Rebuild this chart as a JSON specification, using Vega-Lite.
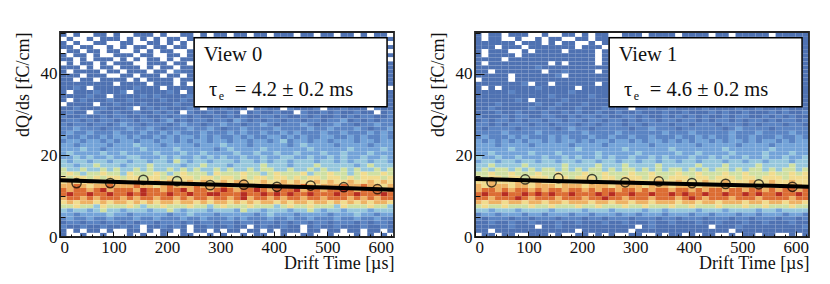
{"$schema":"https://vega.github.io/schema/vega-lite/v6.json","background":"white","padding":{"left":13,"top":31,"right":5,"bottom":5},"spacing":81,"bounds":"flush","config":{"view":{"stroke":null},"axis":{"grid":false,"labelFont":"Liberation Serif","titleFont":"Liberation Serif","labelColor":"#111","titleColor":"#111","tickColor":"#111","domain":false,"titleFontWeight":"normal"}},
"datasets":{
"h0":[
{"y":49,"y2":50,"c":[1,0,1,0,0,1,1,0,1,0,0,1,1,1,0,1,0,0,1,1,0,1,0,1,1,0,1,1,0,1,1,0,1,1,1,0,1,1,0,1,1,0,1,1,0,1,0,1,1,0]},
{"y":48,"y2":49,"c":[0,1,0,0,1,0,1,1,1,0,1,0,1,0,1,0,1,1,0,1,1,1,1,1,1,1,1,1,1,1,1,1,1,1,1,1,1,1,1,1,1,1,1,1,1,1,1,1,0,1]},
{"y":47,"y2":48,"c":[1,0,1,0,0,1,1,0,0,1,1,0,0,1,1,0,1,0,1,0,1,1,1,1,1,1,1,1,1,1,1,1,1,1,1,1,1,1,1,1,1,1,1,1,1,1,1,1,1,0]},
{"y":46,"y2":47,"c":[1,1,0,1,1,0,0,1,0,1,0,1,1,0,1,1,0,1,1,0,1,1,1,1,1,1,1,1,1,1,1,1,1,1,1,1,1,1,1,1,1,1,1,1,1,1,1,1,0,1]},
{"y":45,"y2":46,"c":[0,1,1,0,1,1,0,1,1,0,0,1,0,1,0,1,1,0,0,1,1,1,1,1,1,1,1,1,1,1,1,1,1,1,1,1,1,1,1,1,1,1,1,1,1,1,1,1,1,0]},
{"y":44,"y2":45,"c":[1,0,1,1,0,1,0,0,1,1,1,0,1,1,0,0,1,1,0,1,1,1,1,1,1,1,1,1,1,1,1,1,1,1,1,1,1,1,1,1,1,1,1,1,1,1,1,1,0,1]},
{"y":43,"y2":44,"c":[1,1,0,1,0,1,1,1,0,1,0,1,0,1,1,0,1,0,1,1,1,1,1,1,1,1,1,1,1,1,1,1,1,1,1,1,1,1,1,1,1,1,1,1,1,1,1,1,1,0]},
{"y":42,"y2":43,"c":[0,1,0,1,1,0,1,0,1,1,1,0,0,1,1,1,0,1,1,0,1,1,1,1,1,1,1,1,1,1,1,1,1,1,1,1,1,1,1,1,1,1,1,1,1,1,1,1,0,1]},
{"y":41,"y2":42,"c":[1,1,1,0,1,0,1,1,0,1,1,1,0,1,0,1,1,0,1,1,1,1,1,1,1,1,1,1,1,1,1,1,1,1,1,1,1,1,1,1,1,1,1,1,1,1,1,1,1,1]},
{"y":40,"y2":41,"c":[1,0,1,1,1,1,0,1,1,0,1,1,1,0,1,1,0,2,1,1,1,1,1,1,1,1,1,1,1,1,1,1,1,1,1,1,1,1,1,1,1,1,1,1,1,1,1,1,0,1]},
{"y":39,"y2":40,"c":[1,1,1,0,1,1,1,0,0,1,1,0,1,1,1,0,1,1,0,1,1,1,1,1,1,1,1,1,1,1,1,1,1,1,1,1,1,1,1,1,1,1,1,1,1,1,1,1,1,1]},
{"y":38,"y2":39,"c":[1,1,0,1,1,0,1,1,1,1,0,1,0,1,1,1,1,0,1,1,1,1,1,1,1,1,1,1,1,1,1,1,1,1,1,1,1,1,1,1,1,1,1,1,1,1,1,1,0,1]},
{"y":37,"y2":38,"c":[1,1,1,1,1,1,1,1,0,1,1,1,1,0,1,1,1,0,1,0,1,1,1,1,1,1,1,1,1,1,1,1,1,1,1,1,1,1,1,1,1,1,1,1,1,1,1,1,1,1]},
{"y":36,"y2":37,"c":[1,1,2,1,0,1,1,1,1,1,1,2,1,1,1,0,1,1,1,1,1,1,1,1,1,1,1,1,1,1,1,1,1,1,1,1,1,1,1,1,1,1,1,1,1,1,1,1,1,0]},
{"y":35,"y2":36,"c":[1,0,1,1,1,2,1,1,1,2,0,1,1,1,1,1,2,1,0,1,1,1,1,1,1,1,1,1,1,1,1,1,1,1,1,1,1,1,1,1,1,1,1,1,1,1,1,1,1,1]},
{"y":34,"y2":35,"c":[1,1,1,1,2,1,1,0,1,1,1,1,2,1,2,1,1,1,1,2,1,1,1,1,1,1,1,1,1,1,1,1,1,1,1,1,1,1,1,1,1,1,1,1,1,1,1,1,1,1]},
{"y":33,"y2":34,"c":[1,0,1,2,1,1,1,2,1,1,2,1,1,1,1,2,1,1,2,1,1,1,1,1,1,1,1,1,1,1,1,1,1,1,1,1,1,1,1,1,1,1,1,1,1,1,1,1,0,1]},
{"y":32,"y2":33,"c":[0,1,1,1,1,0,1,1,2,1,1,1,2,1,1,1,1,2,1,1,1,1,1,1,1,1,1,1,1,1,1,1,1,1,1,1,1,1,1,1,1,1,1,1,1,1,1,1,1,1]},
{"y":31,"y2":32,"c":[1,1,2,1,1,1,2,1,1,1,2,0,1,2,1,2,1,1,1,2,1,0,1,1,2,1,1,1,0,1,2,1,1,0,2,1,1,1,2,0,1,1,2,1,1,1,0,2,1,1]},
{"y":30,"y2":31,"c":[1,2,1,1,0,2,1,1,2,1,1,2,1,1,2,1,2,1,0,2,1,1,2,1,1,2,1,0,1,2,1,1,2,1,1,0,2,1,1,2,1,2,1,1,2,1,1,0,1,2]},
{"y":29,"y2":30,"c":[2,1,1,2,1,1,2,1,2,2,1,1,2,1,1,2,1,2,2,1,2,1,1,2,1,2,1,2,1,1,2,2,1,2,1,1,2,1,2,1,1,2,1,2,1,2,2,1,1,2]},
{"y":28,"y2":29,"c":[1,2,2,1,2,1,2,2,1,2,2,1,2,2,1,2,3,1,2,1,2,2,1,2,2,1,3,2,1,2,1,2,2,1,2,2,1,2,2,1,2,2,3,1,2,1,2,1,2,2]},
{"y":27,"y2":28,"c":[2,1,2,2,1,2,2,1,2,3,2,2,1,2,2,2,1,2,3,2,2,1,2,2,3,2,2,1,2,2,3,2,1,2,2,2,3,2,1,2,2,3,2,2,1,2,2,3,2,2]},
{"y":26,"y2":27,"c":[2,2,3,2,2,2,1,2,2,2,3,2,2,3,2,1,2,2,2,3,2,2,3,2,1,2,2,3,2,2,2,2,3,2,2,2,2,3,2,2,3,2,2,2,3,2,1,2,2,3]},
{"y":25,"y2":26,"c":[2,3,2,2,3,2,2,2,3,2,2,2,3,2,2,3,2,3,2,2,2,3,2,2,2,3,2,3,2,2,3,2,2,3,2,3,2,2,2,3,2,2,3,2,2,2,3,2,3,2]},
{"y":24,"y2":25,"c":[3,2,2,3,2,2,3,2,3,3,2,3,2,2,3,2,3,2,3,3,2,3,2,3,2,2,3,2,3,2,2,3,3,2,3,2,3,2,2,3,3,2,2,3,2,3,2,2,3,2]},
{"y":23,"y2":24,"c":[2,3,3,2,3,3,2,3,2,3,3,2,3,3,2,3,3,2,3,2,3,3,2,3,3,2,3,3,2,3,3,2,3,4,2,3,3,2,3,3,2,3,3,3,2,3,3,2,3,3]},
{"y":22,"y2":23,"c":[3,3,2,3,3,3,3,2,3,3,3,4,3,3,3,2,3,3,3,3,2,3,3,3,4,3,3,3,2,3,3,3,3,3,2,3,4,3,3,3,3,2,3,3,3,3,2,3,3,3]},
{"y":21,"y2":22,"c":[3,3,3,4,3,3,2,3,3,3,3,3,4,3,3,3,3,4,3,3,3,3,3,2,3,4,3,3,3,3,4,3,3,3,3,3,3,4,3,3,3,3,3,4,3,3,3,3,4,3]},
{"y":20,"y2":21,"c":[3,4,3,3,3,3,4,3,3,4,3,3,3,3,4,3,3,3,4,3,3,4,3,3,3,3,4,3,3,4,3,3,4,3,3,4,3,3,3,4,3,3,4,3,3,3,4,3,3,3]},
{"y":19,"y2":20,"c":[3,3,4,3,4,3,3,4,3,3,4,4,3,3,3,4,3,4,3,3,4,3,4,3,4,3,3,4,3,3,4,3,3,4,4,3,3,4,3,3,4,3,4,3,3,4,3,3,4,3]},
{"y":18,"y2":19,"c":[4,3,4,4,3,4,4,3,4,4,3,4,4,3,4,4,3,5,4,3,4,4,3,4,4,4,3,4,4,3,4,3,4,4,3,4,4,4,3,4,4,3,4,3,4,4,3,4,4,3]},
{"y":17,"y2":18,"c":[4,4,3,4,4,5,4,4,4,3,4,4,4,5,4,4,4,4,3,4,4,5,4,4,4,3,4,4,4,4,5,4,4,4,3,4,4,4,5,4,4,4,4,4,3,4,5,4,4,4]},
{"y":16,"y2":17,"c":[5,4,4,5,4,4,5,4,5,4,4,5,4,5,4,4,5,4,5,4,5,4,4,5,4,5,4,4,5,4,5,5,4,4,5,4,4,5,4,5,4,4,5,4,5,4,4,5,4,5]},
{"y":15,"y2":16,"c":[5,6,5,4,5,5,6,5,5,4,6,5,5,5,6,5,4,5,6,5,5,5,4,6,5,5,5,6,5,5,4,5,6,5,5,5,6,4,5,5,6,5,5,4,5,6,5,5,6,5]},
{"y":14,"y2":15,"c":[6,5,6,6,5,6,5,6,6,5,6,6,5,6,6,5,6,5,6,6,5,6,6,5,6,6,5,6,5,6,6,5,6,6,5,6,5,6,6,5,6,6,5,6,5,6,6,6,5,6]},
{"y":13,"y2":14,"c":[6,7,6,6,7,6,6,7,6,7,6,7,6,6,7,6,7,6,6,7,6,7,6,6,7,6,7,7,6,6,7,6,6,7,6,7,6,6,7,6,7,6,6,7,6,6,7,6,7,6]},
{"y":12,"y2":13,"c":[7,7,8,7,6,7,7,8,7,7,7,8,7,7,6,7,8,7,7,7,8,7,7,7,8,7,6,7,7,8,7,7,8,7,7,7,8,7,6,7,7,7,8,7,7,8,7,7,6,7]},
{"y":11,"y2":12,"c":[8,7,8,8,7,8,9,7,8,8,8,7,9,8,8,7,8,8,9,7,8,8,7,8,9,8,7,8,8,9,8,7,8,8,8,9,7,8,8,7,8,8,9,8,7,8,8,8,7,8]},
{"y":10,"y2":11,"c":[8,9,8,8,9,8,8,9,8,8,9,8,9,8,8,8,9,8,8,9,8,8,9,9,8,8,8,9,8,8,9,8,9,8,9,8,8,9,8,8,8,9,8,8,9,8,8,8,9,8]},
{"y":9,"y2":10,"c":[7,8,8,7,8,7,8,8,8,7,8,7,8,8,7,8,8,7,8,7,8,8,7,8,8,7,8,9,7,8,8,7,8,7,8,8,7,8,8,7,8,8,8,7,8,7,8,7,8,8]},
{"y":8,"y2":9,"c":[6,7,6,7,7,6,7,6,7,7,6,7,6,7,6,7,7,6,7,7,6,7,6,7,7,6,7,6,7,6,7,7,6,7,6,7,7,6,7,7,6,7,6,7,6,7,6,7,7,6]},
{"y":7,"y2":8,"c":[5,5,6,5,5,4,6,5,5,5,6,5,4,5,5,6,5,5,5,6,5,5,4,5,6,5,5,5,6,5,5,5,4,5,6,5,5,6,5,5,5,4,6,5,5,5,6,5,5,4]},
{"y":6,"y2":7,"c":[4,3,4,4,3,4,5,4,4,3,4,4,4,3,4,4,5,4,3,4,4,4,3,4,4,4,3,5,4,4,3,4,4,4,3,4,4,5,4,3,4,4,3,4,4,4,3,4,4,4]},
{"y":5,"y2":6,"c":[3,3,2,3,3,3,3,4,3,3,2,3,3,3,3,3,2,3,3,4,3,3,3,2,3,3,3,3,3,2,3,4,3,3,3,2,3,3,3,3,2,3,3,3,4,3,3,2,3,3]},
{"y":4,"y2":5,"c":[2,3,2,2,3,2,2,3,2,2,2,3,2,2,3,2,2,2,3,2,2,3,2,2,2,3,2,3,2,2,2,3,2,2,3,2,2,3,2,2,2,3,2,2,3,2,2,3,2,2]},
{"y":3,"y2":4,"c":[1,2,2,1,2,2,1,2,2,1,2,1,2,2,1,2,2,2,1,2,1,2,2,1,2,2,1,2,2,1,2,2,1,2,1,2,2,1,2,2,1,2,2,2,1,2,1,2,2,1]},
{"y":2,"y2":3,"c":[2,1,1,2,1,1,2,1,1,2,1,2,0,1,1,2,1,2,1,0,1,1,2,1,1,2,1,1,0,1,2,1,1,2,1,1,0,1,2,1,1,2,1,1,1,2,1,1,2,1]},
{"y":1,"y2":2,"c":[1,0,1,0,1,1,0,1,0,0,1,1,0,1,0,1,1,0,1,0,1,1,0,1,0,1,1,0,1,1,0,1,0,1,1,1,0,1,1,0,1,1,0,1,1,0,1,1,0,1]},
{"y":0,"y2":1,"c":[1,0,0,1,0,0,1,0,0,0,1,0,1,0,0,1,0,0,1,1,0,0,1,0,1,0,0,1,0,1,1,0,0,1,0,0,1,1,0,0,1,0,0,0,1,0,1,0,1,0]}
],
"h1":[
{"y":49,"y2":50,"c":[1,0,1,1,0,1,1,1,0,0,1,0,0,1,1,0,1,0,1,1,0,0,1,1,1,0,1,1,1,1,0,1,1,1,1,0,1,1,0,1,1,1,1,1,0,1,1,1,1,1]},
{"y":48,"y2":49,"c":[1,0,1,1,0,0,1,0,0,1,0,1,1,0,0,1,1,0,1,1,1,1,1,1,1,1,1,1,1,1,1,1,1,1,1,1,1,1,1,1,1,1,1,1,1,1,1,1,1,1]},
{"y":47,"y2":48,"c":[1,1,1,1,1,1,0,1,1,1,0,1,0,1,1,0,0,1,0,1,1,1,1,1,1,1,1,1,1,1,1,1,1,1,1,1,1,1,1,1,1,1,1,1,1,1,1,1,1,1]},
{"y":46,"y2":47,"c":[1,1,1,0,1,1,1,0,1,1,1,1,1,1,1,0,1,1,1,0,1,1,1,1,1,1,1,1,1,1,1,1,1,1,1,1,1,1,1,1,1,1,1,1,1,1,1,1,1,1]},
{"y":45,"y2":46,"c":[1,0,1,1,1,0,0,1,0,1,1,1,1,0,1,1,1,1,0,1,1,1,1,1,1,1,1,1,1,1,1,1,1,1,1,1,1,1,1,1,1,1,1,1,1,1,1,1,1,1]},
{"y":44,"y2":45,"c":[1,0,1,1,1,1,0,1,1,1,1,1,1,1,1,1,1,1,0,1,1,1,1,1,1,1,1,1,1,1,1,1,1,1,1,1,1,1,1,1,1,1,1,1,1,1,1,1,1,1]},
{"y":43,"y2":44,"c":[1,1,1,1,0,1,1,1,1,1,1,1,1,1,1,1,1,1,0,1,1,1,1,1,1,1,1,1,1,1,1,1,1,1,1,1,1,1,1,1,1,1,1,1,1,1,1,1,1,1]},
{"y":42,"y2":43,"c":[1,0,1,1,1,1,1,1,1,1,1,0,1,0,1,1,1,1,0,1,1,1,1,1,1,1,1,1,1,1,1,1,1,1,1,1,1,1,1,1,1,1,1,1,1,1,1,1,1,1]},
{"y":41,"y2":42,"c":[1,1,1,1,1,1,1,1,1,2,1,1,1,1,1,1,1,1,1,1,1,1,1,1,1,1,1,1,1,1,1,1,1,1,1,1,1,1,1,1,1,1,1,1,1,1,1,1,1,1]},
{"y":40,"y2":41,"c":[1,1,0,1,1,1,1,1,1,1,0,1,1,2,1,1,1,1,0,1,1,1,1,1,1,1,1,1,1,1,1,1,1,1,1,1,1,1,1,1,1,1,1,1,1,1,1,1,1,1]},
{"y":39,"y2":40,"c":[1,1,1,1,1,0,1,1,1,1,1,1,2,0,1,1,1,1,1,1,1,1,1,1,1,1,1,1,1,1,1,1,1,1,1,1,1,1,1,1,1,1,1,1,1,1,1,1,1,1]},
{"y":38,"y2":39,"c":[0,1,1,1,1,0,1,1,1,1,1,1,1,1,1,1,1,1,1,1,1,1,1,1,1,1,1,1,1,1,1,1,1,1,1,1,1,1,1,1,1,1,1,1,1,1,1,1,1,1]},
{"y":37,"y2":38,"c":[1,1,1,1,1,1,1,2,0,1,1,0,1,1,1,1,1,1,0,1,1,1,1,1,1,1,1,1,1,1,1,1,1,1,1,1,1,1,1,1,1,1,1,1,1,1,1,1,1,1]},
{"y":36,"y2":37,"c":[1,0,1,0,1,1,1,1,1,2,1,1,1,1,1,0,1,1,1,1,1,1,1,1,1,1,1,1,1,1,1,1,1,1,1,1,1,1,1,1,1,1,1,1,1,1,1,1,1,1]},
{"y":35,"y2":36,"c":[1,1,1,1,1,2,1,1,1,1,1,1,1,1,2,1,1,1,1,1,1,1,1,1,1,1,1,1,1,1,1,1,1,1,1,1,1,1,1,1,1,1,1,1,1,1,1,1,1,1]},
{"y":34,"y2":35,"c":[1,1,1,1,1,1,1,1,1,1,1,2,1,1,1,1,1,2,1,1,1,1,1,1,1,1,1,1,1,1,1,1,1,1,1,1,1,1,1,1,1,1,1,1,1,1,1,1,1,1]},
{"y":33,"y2":34,"c":[1,1,1,1,1,1,2,1,0,1,1,1,1,2,1,1,1,1,1,1,1,1,1,1,1,1,1,1,1,1,1,1,1,1,1,1,1,1,1,1,1,1,1,1,1,1,1,1,1,1]},
{"y":32,"y2":33,"c":[1,1,1,2,1,1,1,1,1,2,1,1,2,1,1,1,2,1,1,1,2,1,1,1,1,1,1,1,1,1,1,1,1,1,1,1,1,1,1,1,1,1,1,1,1,1,1,1,1,1]},
{"y":31,"y2":32,"c":[1,1,2,1,1,1,1,1,2,1,1,2,1,1,1,2,1,1,1,2,1,1,1,0,1,1,2,1,1,2,1,1,1,1,2,1,1,1,1,2,1,1,2,1,1,1,2,1,1,1]},
{"y":30,"y2":31,"c":[1,1,1,2,1,1,2,1,1,1,2,1,1,2,1,2,1,1,2,1,1,2,1,1,2,1,1,1,2,1,1,2,1,1,1,2,1,2,1,1,2,1,1,1,2,1,2,1,1,2]},
{"y":29,"y2":30,"c":[2,1,1,1,2,1,2,2,1,1,2,2,1,1,2,1,2,2,1,2,1,1,2,2,1,2,1,1,2,1,2,1,2,1,2,1,1,2,1,2,2,1,1,2,1,2,1,2,1,1]},
{"y":28,"y2":29,"c":[1,2,1,2,2,1,2,1,2,2,1,2,2,1,2,2,1,2,2,1,2,2,1,2,1,2,2,1,2,2,1,2,2,1,2,1,2,2,1,2,1,2,2,1,2,1,2,2,1,2]},
{"y":27,"y2":28,"c":[2,2,1,2,1,2,2,2,1,2,2,1,2,2,2,1,2,2,1,2,2,2,1,2,2,1,2,2,2,1,2,2,1,2,2,2,1,2,2,2,1,2,1,2,2,2,1,2,2,1]},
{"y":26,"y2":27,"c":[2,1,2,2,2,2,1,2,2,2,2,2,1,2,3,2,2,1,2,2,2,2,2,1,2,2,3,2,2,2,1,2,2,2,2,2,2,1,2,3,2,2,2,2,1,2,2,2,2,2]},
{"y":25,"y2":26,"c":[2,2,2,2,3,2,2,2,2,3,2,2,2,2,2,2,3,2,2,2,2,3,2,2,2,2,2,2,3,2,2,2,3,2,2,2,2,2,3,2,2,2,3,2,2,2,2,3,2,2]},
{"y":24,"y2":25,"c":[2,3,2,2,2,3,2,3,2,2,2,3,2,3,2,2,2,3,2,2,3,2,2,3,2,2,3,2,2,2,3,2,2,3,2,3,2,2,3,2,2,3,2,2,2,3,2,2,3,2]},
{"y":23,"y2":24,"c":[3,2,3,2,3,2,3,2,3,3,2,3,2,3,3,2,3,2,3,3,2,3,3,2,3,2,3,3,2,3,2,3,2,3,3,2,3,2,3,3,2,3,2,3,3,2,3,2,3,3]},
{"y":22,"y2":23,"c":[3,3,3,2,3,3,3,3,2,3,3,3,3,3,2,3,3,3,3,2,3,3,3,3,3,3,2,3,3,3,3,3,3,2,3,3,3,3,3,2,3,3,3,3,2,3,3,3,3,3]},
{"y":21,"y2":22,"c":[3,3,3,3,3,4,3,3,3,3,3,3,3,3,3,4,3,3,3,3,3,3,4,3,3,3,3,3,3,4,3,3,3,3,3,3,3,4,3,3,3,3,3,3,4,3,3,3,3,3]},
{"y":20,"y2":21,"c":[3,3,4,3,3,3,3,3,4,3,3,3,4,3,3,3,3,3,4,3,3,3,3,3,4,3,3,3,3,3,4,3,3,4,3,3,3,3,4,3,3,3,3,4,3,3,3,4,3,3]},
{"y":19,"y2":20,"c":[4,3,3,4,3,3,4,3,3,3,4,3,3,4,3,4,3,3,4,3,4,3,3,4,3,3,4,3,4,3,3,3,4,3,3,4,3,4,3,3,4,3,3,4,3,3,4,3,3,4]},
{"y":18,"y2":19,"c":[3,4,4,3,4,4,3,4,4,3,4,4,3,4,4,3,4,4,3,4,4,3,4,4,3,4,4,3,4,4,3,4,4,3,4,4,4,3,4,4,3,4,4,3,4,4,4,3,4,4]},
{"y":17,"y2":18,"c":[4,4,5,4,4,4,4,5,4,4,4,4,4,5,4,4,4,4,5,4,4,4,5,4,4,4,4,5,4,4,4,4,4,5,4,4,4,5,4,4,4,4,5,4,4,4,4,5,4,4]},
{"y":16,"y2":17,"c":[4,5,4,5,5,4,5,4,5,4,5,5,4,5,4,5,4,5,5,4,5,4,5,5,4,5,4,5,4,5,5,4,5,4,5,4,5,5,4,5,4,5,5,4,5,4,5,5,4,5]},
{"y":15,"y2":16,"c":[5,5,6,5,5,6,5,5,5,6,5,5,6,5,5,5,6,5,5,6,5,5,5,6,5,5,6,5,5,5,6,5,5,6,5,5,5,6,5,5,6,5,5,5,6,5,5,6,5,6]},
{"y":14,"y2":15,"c":[6,5,6,6,5,6,6,5,6,6,6,5,6,6,5,6,6,6,5,6,6,5,6,6,6,5,6,6,5,6,6,6,5,6,6,5,6,6,6,5,6,6,5,6,6,6,5,6,6,6]},
{"y":13,"y2":14,"c":[6,6,7,6,6,6,7,6,6,7,6,6,6,7,6,6,7,6,6,6,7,6,6,7,6,6,6,7,6,6,7,6,6,6,7,6,6,7,6,6,6,7,6,6,7,6,6,7,6,6]},
{"y":12,"y2":13,"c":[7,6,7,7,7,6,7,7,6,7,7,7,6,7,7,7,6,7,7,7,6,7,7,7,7,6,7,7,7,6,7,7,7,6,7,7,7,7,6,7,7,7,6,7,7,6,7,7,7,6]},
{"y":11,"y2":12,"c":[7,8,8,7,8,7,8,8,7,8,7,8,8,7,8,8,7,8,7,8,8,7,8,8,7,8,7,8,8,7,8,8,7,8,7,8,8,7,8,8,7,8,8,7,8,7,8,8,7,8]},
{"y":10,"y2":11,"c":[8,9,8,8,9,8,8,9,8,9,8,9,8,8,9,8,8,8,9,8,9,8,8,9,8,8,9,8,8,9,8,9,8,8,9,8,8,9,8,8,9,8,9,8,8,9,8,8,9,8]},
{"y":9,"y2":10,"c":[8,8,7,8,8,8,9,8,7,8,8,8,7,8,8,8,7,8,8,9,8,8,7,8,8,8,7,8,8,8,7,8,9,8,7,8,8,8,7,8,8,8,7,8,8,8,8,7,8,8]},
{"y":8,"y2":9,"c":[7,6,7,7,6,7,7,6,7,7,6,7,7,6,7,7,7,6,7,7,6,7,7,6,7,7,6,7,7,7,6,7,7,6,7,7,6,7,7,7,6,7,7,6,7,7,6,7,7,6]},
{"y":7,"y2":8,"c":[5,6,5,5,6,5,5,5,6,5,5,6,5,5,5,6,5,5,6,5,5,5,6,5,5,6,5,5,5,6,5,5,6,5,5,5,6,5,5,5,6,5,5,6,5,5,5,6,5,5]},
{"y":6,"y2":7,"c":[4,4,3,4,4,4,3,4,4,4,4,3,4,4,4,4,3,4,4,4,3,4,4,4,4,3,4,4,3,4,4,4,4,3,4,4,4,3,4,4,4,4,3,4,4,3,4,4,4,4]},
{"y":5,"y2":6,"c":[2,3,3,2,3,3,3,2,3,3,2,3,3,3,2,3,3,2,3,3,3,2,3,3,2,3,3,3,2,3,3,3,2,3,3,2,3,3,3,2,3,3,2,3,3,3,2,3,3,2]},
{"y":4,"y2":5,"c":[2,1,2,2,2,1,2,2,1,2,2,2,1,2,2,2,1,2,2,1,2,2,2,1,2,2,2,1,2,2,1,2,2,2,1,2,2,2,1,2,2,1,2,2,2,1,2,2,1,2]},
{"y":3,"y2":4,"c":[1,1,2,1,1,2,1,1,2,1,1,1,2,1,1,2,1,1,1,2,1,1,2,1,1,1,2,1,1,2,1,1,1,2,1,1,2,1,1,1,2,1,1,2,1,1,1,2,1,1]},
{"y":2,"y2":3,"c":[1,1,1,1,1,2,1,1,1,0,1,1,2,1,1,1,1,1,1,1,1,1,1,1,0,1,2,1,1,1,1,1,1,1,1,0,1,1,1,2,1,1,1,1,1,1,1,1,1,2]},
{"y":1,"y2":2,"c":[1,1,0,1,1,1,1,1,1,1,1,1,1,1,1,0,1,1,1,1,1,1,1,0,1,1,1,1,1,1,1,1,1,1,1,1,1,1,0,1,1,1,1,1,1,1,1,1,1,1]},
{"y":0,"y2":1,"c":[0,1,1,0,1,1,0,0,1,1,1,0,1,0,0,1,1,0,1,0,1,0,0,1,1,0,0,1,0,1,1,0,1,0,1,1,0,0,1,0,1,1,0,1,1,0,0,1,0,1]}
],
"fit0":[{"x":0,"y":13.9},{"x":125,"y":13.4},{"x":250,"y":12.95},{"x":375,"y":12.5},{"x":500,"y":12.1},{"x":625,"y":11.6}],
"fit1":[{"x":0,"y":14.2},{"x":125,"y":13.8},{"x":250,"y":13.4},{"x":375,"y":13.05},{"x":500,"y":12.7},{"x":625,"y":12.3}],
"pts0":[{"x":31,"y":13.2},{"x":94,"y":13.2},{"x":156,"y":14.0},{"x":219,"y":13.7},{"x":281,"y":12.7},{"x":344,"y":12.8},{"x":406,"y":12.3},{"x":469,"y":12.6},{"x":531,"y":12.2},{"x":594,"y":11.7}],
"pts1":[{"x":31,"y":13.4},{"x":94,"y":14.1},{"x":156,"y":14.4},{"x":219,"y":14.2},{"x":281,"y":13.4},{"x":344,"y":13.6},{"x":406,"y":13.2},{"x":469,"y":13.0},{"x":531,"y":12.9},{"x":594,"y":12.3}],
"frame":[{"x":0,"x2":625,"y":0,"y2":50.2}],
"box":[{"x":251,"x2":612,"y":31.9,"y2":48.8}],
"txt0":[{"x":269,"y":43.1,"t":"View 0"},{"x":279,"y":34.6,"t":"τ"},{"x":327,"y":34.6,"t":"= 4.2 ± 0.2 ms"}],
"txt1":[{"x":269,"y":43.1,"t":"View 1"},{"x":279,"y":34.6,"t":"τ"},{"x":327,"y":34.6,"t":"= 4.6 ± 0.2 ms"}],
"sub":[{"x":297,"y":33.5,"t":"e"}]
},
"hconcat":[
{"width":334,"height":205,"resolve":{"scale":{"x":"independent"},"axis":{"x":"independent","y":"independent"}},"layer":[
{"data":{"name":"h0"},"transform":[{"flatten":["c"]},{"window":[{"op":"row_number","as":"i"}],"groupby":["y"]}],"mark":{"type":"rect","strokeWidth":0},"encoding":{"x":{"field":"i","type":"ordinal","axis":null,"scale":{"paddingInner":0,"paddingOuter":0}},"y":{"field":"y","type":"quantitative","axis":null,"scale":{"domain":[0,50.2],"nice":false}},"y2":{"field":"y2"},"color":{"field":"c","type":"ordinal","legend":null,"scale":{"domain":[0,1,2,3,4,5,6,7,8,9],"range":["#ffffff","#4f72b2","#5b84c3","#73a3d8","#96c7dc","#cfe0a2","#f1dc8e","#eeb264","#dc6d34","#b62c22"]}}}},
{"data":{"name":"frame"},"mark":{"type":"rect","fillOpacity":0,"stroke":"#222","strokeWidth":1.8},"encoding":{"x":{"field":"x","type":"quantitative","scale":{"domain":[0,625],"nice":false},"axis":{"orient":"bottom","values":[20,40,60,80,120,140,160,180,220,240,260,280,320,340,360,380,420,440,460,480,520,540,560,580,620],"labels":false,"title":null,"tickSize":-3,"zindex":1}},"x2":{"field":"x2"},"y":{"field":"y","type":"quantitative","axis":{"orient":"left","values":[5,10,15,25,30,35,45,50],"labels":false,"title":null,"tickSize":-5,"zindex":1}},"y2":{"field":"y2"}}},
{"data":{"name":"fit0"},"mark":{"type":"line","color":"black","strokeWidth":4},"encoding":{"x":{"field":"x","type":"quantitative","scale":{"domain":[0,625],"nice":false},"axis":{"orient":"bottom","values":[0,100,200,300,400,500,600],"labelFontSize":17,"labelPadding":8,"tickSize":-6,"title":"Drift Time [µs]","titleFontSize":18,"titleAnchor":"end","titlePadding":-1,"zindex":1}},"y":{"field":"y","type":"quantitative","axis":{"orient":"left","values":[0,20,40],"labelFontSize":17,"labelPadding":12,"tickSize":-9,"title":"dQ/ds [fC/cm]","titleFontSize":18,"titleAnchor":"end","titlePadding":8,"zindex":1}}}},
{"data":{"name":"pts0"},"mark":{"type":"point","shape":"circle","filled":false,"stroke":"black","strokeWidth":1.5,"size":85},"encoding":{"x":{"field":"x","type":"quantitative","scale":{"domain":[0,625],"nice":false},"axis":null},"y":{"field":"y","type":"quantitative","axis":null}}},
{"data":{"name":"box"},"mark":{"type":"rect","fill":"white","stroke":"black","strokeWidth":1.5},"encoding":{"x":{"field":"x","type":"quantitative","scale":{"domain":[0,625],"nice":false},"axis":null},"x2":{"field":"x2"},"y":{"field":"y","type":"quantitative","axis":null},"y2":{"field":"y2"}}},
{"data":{"name":"txt0"},"mark":{"type":"text","font":"Liberation Serif","fontSize":20.5,"align":"left","baseline":"alphabetic","color":"#111"},"encoding":{"x":{"field":"x","type":"quantitative","scale":{"domain":[0,625],"nice":false},"axis":null},"y":{"field":"y","type":"quantitative","axis":null},"text":{"field":"t"}}},
{"data":{"name":"sub"},"mark":{"type":"text","font":"Liberation Serif","fontSize":12,"align":"left","baseline":"alphabetic","color":"#111"},"encoding":{"x":{"field":"x","type":"quantitative","scale":{"domain":[0,625],"nice":false},"axis":null},"y":{"field":"y","type":"quantitative","axis":null},"text":{"field":"t"}}}
]},
{"width":334,"height":205,"resolve":{"scale":{"x":"independent"},"axis":{"x":"independent","y":"independent"}},"layer":[
{"data":{"name":"h1"},"transform":[{"flatten":["c"]},{"window":[{"op":"row_number","as":"i"}],"groupby":["y"]}],"mark":{"type":"rect","strokeWidth":0},"encoding":{"x":{"field":"i","type":"ordinal","axis":null,"scale":{"paddingInner":0,"paddingOuter":0}},"y":{"field":"y","type":"quantitative","axis":null,"scale":{"domain":[0,50.2],"nice":false}},"y2":{"field":"y2"},"color":{"field":"c","type":"ordinal","legend":null,"scale":{"domain":[0,1,2,3,4,5,6,7,8,9],"range":["#ffffff","#4f72b2","#5b84c3","#73a3d8","#96c7dc","#cfe0a2","#f1dc8e","#eeb264","#dc6d34","#b62c22"]}}}},
{"data":{"name":"frame"},"mark":{"type":"rect","fillOpacity":0,"stroke":"#222","strokeWidth":1.8},"encoding":{"x":{"field":"x","type":"quantitative","scale":{"domain":[0,625],"nice":false},"axis":{"orient":"bottom","values":[20,40,60,80,120,140,160,180,220,240,260,280,320,340,360,380,420,440,460,480,520,540,560,580,620],"labels":false,"title":null,"tickSize":-3,"zindex":1}},"x2":{"field":"x2"},"y":{"field":"y","type":"quantitative","axis":{"orient":"left","values":[5,10,15,25,30,35,45,50],"labels":false,"title":null,"tickSize":-5,"zindex":1}},"y2":{"field":"y2"}}},
{"data":{"name":"fit1"},"mark":{"type":"line","color":"black","strokeWidth":4},"encoding":{"x":{"field":"x","type":"quantitative","scale":{"domain":[0,625],"nice":false},"axis":{"orient":"bottom","values":[0,100,200,300,400,500,600],"labelFontSize":17,"labelPadding":8,"tickSize":-6,"title":"Drift Time [µs]","titleFontSize":18,"titleAnchor":"end","titlePadding":-1,"zindex":1}},"y":{"field":"y","type":"quantitative","axis":{"orient":"left","values":[0,20,40],"labelFontSize":17,"labelPadding":12,"tickSize":-9,"title":"dQ/ds [fC/cm]","titleFontSize":18,"titleAnchor":"end","titlePadding":8,"zindex":1}}}},
{"data":{"name":"pts1"},"mark":{"type":"point","shape":"circle","filled":false,"stroke":"black","strokeWidth":1.5,"size":85},"encoding":{"x":{"field":"x","type":"quantitative","scale":{"domain":[0,625],"nice":false},"axis":null},"y":{"field":"y","type":"quantitative","axis":null}}},
{"data":{"name":"box"},"mark":{"type":"rect","fill":"white","stroke":"black","strokeWidth":1.5},"encoding":{"x":{"field":"x","type":"quantitative","scale":{"domain":[0,625],"nice":false},"axis":null},"x2":{"field":"x2"},"y":{"field":"y","type":"quantitative","axis":null},"y2":{"field":"y2"}}},
{"data":{"name":"txt1"},"mark":{"type":"text","font":"Liberation Serif","fontSize":20.5,"align":"left","baseline":"alphabetic","color":"#111"},"encoding":{"x":{"field":"x","type":"quantitative","scale":{"domain":[0,625],"nice":false},"axis":null},"y":{"field":"y","type":"quantitative","axis":null},"text":{"field":"t"}}},
{"data":{"name":"sub"},"mark":{"type":"text","font":"Liberation Serif","fontSize":12,"align":"left","baseline":"alphabetic","color":"#111"},"encoding":{"x":{"field":"x","type":"quantitative","scale":{"domain":[0,625],"nice":false},"axis":null},"y":{"field":"y","type":"quantitative","axis":null},"text":{"field":"t"}}}
]}
]}
